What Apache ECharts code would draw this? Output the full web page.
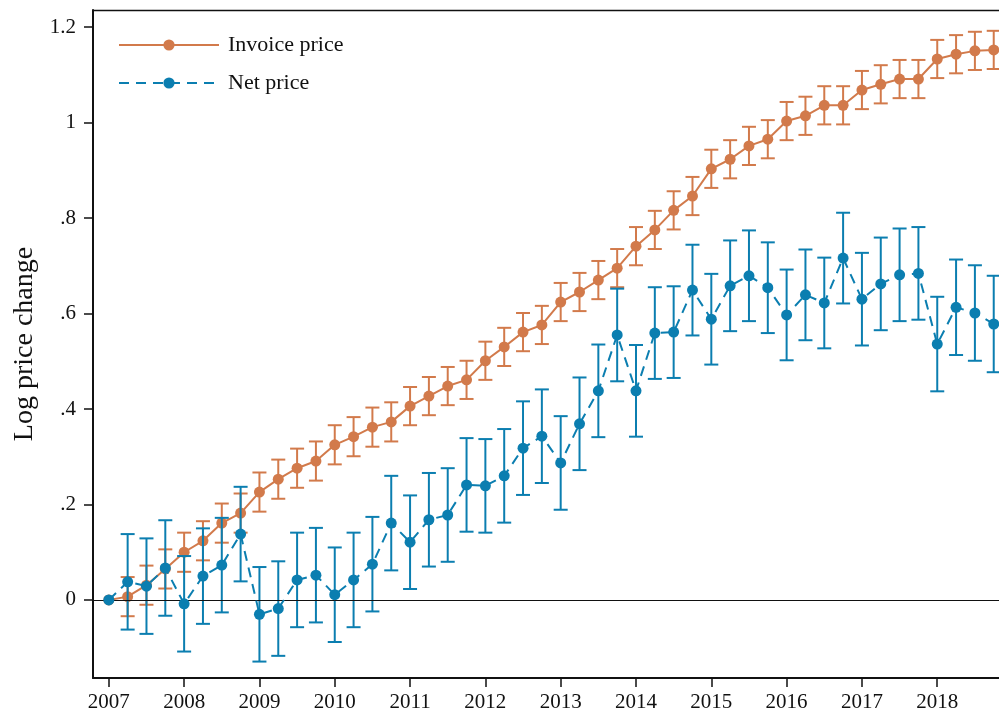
<!DOCTYPE html>
<html>
<head>
<meta charset="utf-8">
<script src="https://cdn.jsdelivr.net/npm/echarts@6/dist/echarts.min.js"></script>
<style>html,body{margin:0;padding:0;background:#fff;}#c{width:999px;height:713px;}</style>
</head>
<body>
<div id="c"></div>
<script>
// Quarterly periods
var periods = [2007, 2007.25, 2007.5, 2007.75, 2008, 2008.25, 2008.5, 2008.75,
  2009, 2009.25, 2009.5, 2009.75, 2010, 2010.25, 2010.5, 2010.75,
  2011, 2011.25, 2011.5, 2011.75, 2012, 2012.25, 2012.5, 2012.75,
  2013, 2013.25, 2013.5, 2013.75, 2014, 2014.25, 2014.5, 2014.75,
  2015, 2015.25, 2015.5, 2015.75, 2016, 2016.25, 2016.5, 2016.75,
  2017, 2017.25, 2017.5, 2017.75, 2018, 2018.25, 2018.5, 2018.75];
var invoicePrice = [0, 0.007, 0.031, 0.065, 0.100, 0.124, 0.161, 0.182,
  0.226, 0.253, 0.276, 0.291, 0.325, 0.342, 0.362, 0.373,
  0.406, 0.427, 0.448, 0.461, 0.501, 0.530, 0.561, 0.576,
  0.624, 0.645, 0.670, 0.695, 0.741, 0.775, 0.816, 0.846,
  0.903, 0.923, 0.951, 0.965, 1.003, 1.014, 1.036, 1.036,
  1.068, 1.080, 1.091, 1.091, 1.133, 1.143, 1.150, 1.152];
var invoiceErr = [0, 0.041, 0.041, 0.041, 0.041, 0.041, 0.041, 0.041,
  0.041, 0.041, 0.041, 0.041, 0.041, 0.041, 0.041, 0.041,
  0.040, 0.040, 0.040, 0.040, 0.040, 0.040, 0.040, 0.040,
  0.040, 0.040, 0.040, 0.040, 0.040, 0.040, 0.040, 0.040,
  0.040, 0.040, 0.040, 0.040, 0.040, 0.040, 0.040, 0.040,
  0.040, 0.040, 0.040, 0.040, 0.040, 0.040, 0.040, 0.040];
var netPrice = [0, 0.038, 0.029, 0.067, -0.008, 0.050, 0.073, 0.138,
  -0.030, -0.018, 0.042, 0.052, 0.011, 0.042, 0.075, 0.161,
  0.121, 0.168, 0.178, 0.241, 0.239, 0.260, 0.318, 0.343,
  0.287, 0.369, 0.438, 0.555, 0.438, 0.559, 0.561, 0.649,
  0.588, 0.658, 0.679, 0.654, 0.597, 0.639, 0.622, 0.716,
  0.630, 0.662, 0.681, 0.684, 0.536, 0.613, 0.601, 0.578];
var netErr = [0, 0.100, 0.100, 0.100, 0.100, 0.100, 0.099, 0.099,
  0.099, 0.099, 0.099, 0.099, 0.099, 0.099, 0.099, 0.099,
  0.098, 0.098, 0.098, 0.098, 0.098, 0.098, 0.098, 0.098,
  0.098, 0.097, 0.097, 0.097, 0.096, 0.096, 0.096, 0.095,
  0.095, 0.095, 0.095, 0.095, 0.095, 0.095, 0.095, 0.095,
  0.097, 0.097, 0.097, 0.097, 0.099, 0.100, 0.100, 0.101];
var yTicks = [0, 0.2, 0.4, 0.6, 0.8, 1, 1.2];
var xTicks = [2007, 2008, 2009, 2010, 2011, 2012, 2013, 2014, 2015, 2016, 2017, 2018];

var ORANGE = '#d27a4b';
var BLUE = '#0b7eb0';
var FONT = 'Liberation Serif';

function pairs(vals) { return periods.map(function (p, i) { return [p, vals[i]]; }); }
function errData(vals, errs) {
  var out = [];
  periods.forEach(function (p, i) { if (errs[i] > 0) out.push([p, vals[i] - errs[i], vals[i] + errs[i]]); });
  return out;
}
function errRender(color) {
  return function (params, api) {
    var x = api.value(0);
    var lo = api.coord([x, api.value(1)]);
    var hi = api.coord([x, api.value(2)]);
    var hw = 7;
    var st = { stroke: color, lineWidth: 2, fill: null };
    return {
      type: 'group',
      children: [
        { type: 'line', shape: { x1: lo[0], y1: lo[1], x2: hi[0], y2: hi[1] }, style: st },
        { type: 'line', shape: { x1: lo[0] - hw, y1: lo[1], x2: lo[0] + hw, y2: lo[1] }, style: st },
        { type: 'line', shape: { x1: hi[0] - hw, y1: hi[1], x2: hi[0] + hw, y2: hi[1] }, style: st }
      ]
    };
  };
}
function fmtY(v) {
  if (Math.abs(v) < 1e-9) return '0';
  var s = String(Math.round(v * 10) / 10);
  return s.replace(/^0\./, '.');
}

var chart = echarts.init(document.getElementById('c'), null, { renderer: 'canvas' });
chart.setOption({
  animation: false,
  backgroundColor: '#fff',
  textStyle: { fontFamily: FONT },
  grid: { left: 93, right: 0, top: 10, bottom: 35, containLabel: false, outerBoundsMode: 'none' },
  legend: {
    orient: 'vertical', left: 113, top: 29, itemWidth: 100, itemHeight: 14, itemGap: 16,
    data: ['Invoice price', 'Net price'],
    textStyle: { fontFamily: FONT, fontSize: 22, color: '#111', padding: [0, 0, 0, 4] }
  },
  xAxis: [{
    type: 'value', min: 2006.79, max: 2018.82,
    axisLine: { show: true, onZero: false, lineStyle: { color: '#111', width: 2 } },
    axisTick: { show: true, length: 9, lineStyle: { color: '#111', width: 1.5 }, customValues: xTicks },
    axisLabel: { fontFamily: FONT, fontSize: 21, color: '#111', margin: 14, customValues: xTicks, formatter: function (v) { return String(Math.round(v)); } },
    splitLine: { show: false }
  }, {
    type: 'value', position: 'top', min: 2006.79, max: 2018.82,
    axisLine: { show: true, onZero: false, lineStyle: { color: '#111', width: 1.3 } },
    axisTick: { show: false }, axisLabel: { show: false }, splitLine: { show: false }
  }],
  yAxis: {
    type: 'value', min: -0.1634, max: 1.2356,
    name: 'Log price change', nameLocation: 'middle', nameGap: 50, nameRotate: 90,
    nameTextStyle: { fontFamily: FONT, fontSize: 28, color: '#111' },
    axisLine: { show: true, onZero: false, lineStyle: { color: '#111', width: 2 } },
    axisTick: { show: true, length: 9, lineStyle: { color: '#111', width: 1.5 }, customValues: yTicks },
    axisLabel: { fontFamily: FONT, fontSize: 21, color: '#111', margin: 17, customValues: yTicks, formatter: fmtY },
    splitLine: { show: false }
  },
  series: [
    {
      name: 'zero', type: 'line', data: [], silent: true, z: 1,
      markLine: { silent: true, symbol: 'none', label: { show: false },
        lineStyle: { color: '#111', width: 1.2, type: 'solid' }, data: [{ yAxis: 0 }] }
    },
    {
      name: 'invoiceCI', type: 'custom', renderItem: errRender(ORANGE), data: errData(invoicePrice, invoiceErr),
      encode: { x: 0, y: [1, 2] }, z: 2, silent: true
    },
    {
      name: 'Invoice price', type: 'line', data: pairs(invoicePrice), symbol: 'circle', symbolSize: 11,
      itemStyle: { color: ORANGE }, lineStyle: { color: ORANGE, width: 2 }, z: 3
    },
    {
      name: 'netCI', type: 'custom', renderItem: errRender(BLUE), data: errData(netPrice, netErr),
      encode: { x: 0, y: [1, 2] }, z: 4, silent: true
    },
    {
      name: 'Net price', type: 'line', data: pairs(netPrice), symbol: 'circle', symbolSize: 11,
      itemStyle: { color: BLUE }, lineStyle: { color: BLUE, width: 2, type: [10, 7] }, z: 5
    }
  ]
});
</script>
</body>
</html>
